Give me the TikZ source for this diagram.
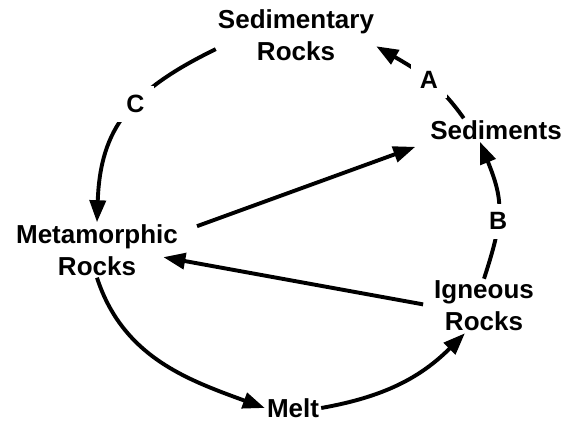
\documentclass[tikz,border=0pt]{standalone}
\usepackage{fontspec}
\setmainfont{Liberation Sans}
\usetikzlibrary{arrows.meta}

\begin{document}
\begin{tikzpicture}[x=1pt,y=1pt,
    rock/.style={font=\fontsize{26}{32}\selectfont\bfseries,align=center,
      inner sep=2pt},
    flow/.style={line width=3.9pt,-{Triangle[length=22pt,width=16pt]}},
    tag/.style={font=\fontsize{25}{30}\selectfont\bfseries,fill=white,
      inner sep=9pt}
  ]
    \useasboundingbox (0,0) rectangle (571,422);
    \node[rock] (sedrocks) at (296,387) {Sedimentary\\Rocks};
    \node[rock] (sediments) at (496,292) {Sediments};
    \node[rock] (metrocks) at (97,172) {Metamorphic\\Rocks};
    \node[rock] (igneous) at (484,116) {Igneous\\Rocks};
    \node[rock] (melt) at (293,14) {Melt};

    \draw[flow] (sedrocks.190) to[out=206,in=88,looseness=1.15] node[tag,pos=0.42] {C} (metrocks.north);
    \draw[flow] (sediments.160) to[out=125,in=330] node[tag,pos=0.45] {A} (sedrocks.-8);
    \draw[flow] (igneous.north) to[out=72,in=-68,looseness=1.2] node[tag,pos=0.4] {B} (sediments.-144);
    \draw[flow] (metrocks.south) to[out=-72,in=160] (melt.west);
    \draw[flow] (melt.east) to[out=10,in=225] (igneous.-125);
    \draw[flow,shorten <=18pt,shorten >=15pt] (metrocks.12) -- (sediments.190);
    \draw[flow,shorten <=9pt,shorten >=-17pt] (igneous.west) -- (metrocks.-7);
\end{tikzpicture}
\end{document}
